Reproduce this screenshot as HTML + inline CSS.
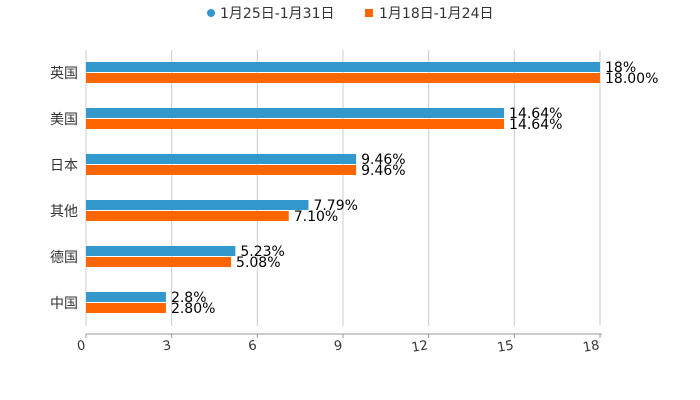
<!DOCTYPE html>
<html><head><meta charset="utf-8"><style>
body{margin:0;background:#fff;font-family:"DejaVu Sans","Noto Sans CJK SC",sans-serif}
svg{display:block}
text{font-family:"DejaVu Sans","Noto Sans CJK SC",sans-serif}
</style></head><body>
<svg id="c" width="700" height="400">
<g>
<g><circle cx="211" cy="13" r="4" fill="#3399cc"/><text x="220" y="18" font-size="14" fill="#333">1月25日-1月31日</text></g>
<g><rect x="365" y="9" width="8" height="8" fill="#ff6600"/><text x="379" y="18" font-size="14" fill="#333">1月18日-1月24日</text></g>
</g>
<g id="grid"></g>
<g id="bars"></g>
<g id="axes"></g>
</svg>
<script>
const categories=["英国","美国","日本","其他","德国","中国"];
const seriesA=[18,14.64,9.46,7.79,5.23,2.8];
const labelsA=["18%","14.64%","9.46%","7.79%","5.23%","2.8%"];
const seriesB=[18,14.64,9.46,7.10,5.08,2.80];
const labelsB=["18.00%","14.64%","9.46%","7.10%","5.08%","2.80%"];
const ticks=[0,3,6,9,12,15,18];
const NS="http://www.w3.org/2000/svg";
const x0=86,x1=600,yTop=50,yBottom=326,axisY=334;
const xs=v=>x0+v*(x1-x0)/18;
const band=(yBottom-yTop)/categories.length;
function mk(t,a,p){const e=document.createElementNS(NS,t);for(const k in a)e.setAttribute(k,a[k]);p.appendChild(e);return e;}
const grid=document.getElementById('grid'),bars=document.getElementById('bars'),axes=document.getElementById('axes');
ticks.forEach(t=>{
 const l=mk('line',{x1:xs(t),x2:xs(t),y1:yTop,y2:yBottom,stroke:'#ccc','stroke-width':1},grid);
 
 
 const tk=mk('line',{x1:xs(t),x2:xs(t),y1:axisY,y2:axisY+4,stroke:'#999'},axes);
 
 
 const tx=mk('text',{x:xs(t),y:axisY+15,'font-size':13,fill:'#333','text-anchor':'end',transform:`rotate(-10 ${xs(t)} ${axisY+15})`},axes);
 tx.textContent=t;
 
 
});
const ax=mk('line',{x1:x0,x2:x1+2,y1:axisY,y2:axisY,stroke:'#999'},axes);


categories.forEach((c,i)=>{
 const cy=yTop+band*(i+0.5);
 const t=mk('text',{x:78,y:cy+5,'font-size':14,fill:'#333','text-anchor':'end'},axes);
 t.textContent=c;
 
 
 const b1=mk('rect',{x:x0,y:cy-11,width:xs(seriesA[i])-x0,height:10,fill:'#3399cc'},bars);
 
 
 const b2=mk('rect',{x:x0,y:cy,width:xs(seriesB[i])-x0,height:10,fill:'#ff6600'},bars);
 
 
 const l1=mk('text',{x:xs(seriesA[i])+5,y:cy-1,'font-size':14,fill:'#000'},bars);
 l1.textContent=labelsA[i];
 
 
 const l2=mk('text',{x:xs(seriesB[i])+5,y:cy+10,'font-size':14,fill:'#000'},bars);
 l2.textContent=labelsB[i];
 
 
});
</script>
</body></html>
